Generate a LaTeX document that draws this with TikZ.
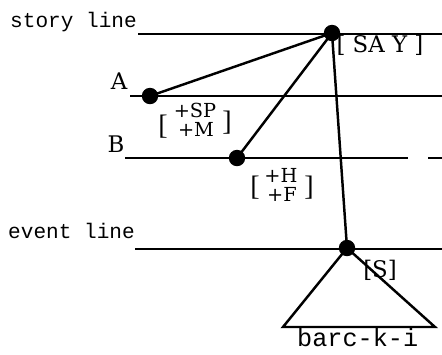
\documentclass[tikz,border=0pt]{standalone}
\usepackage{fontspec}
\setmainfont{DejaVu Serif}
\setmonofont{Liberation Mono}
\newfontfamily\brfont{Liberation Serif}

\tikzset{
    dot/.style={circle, fill=black, inner sep=0pt, minimum size=14pt},
    lbl/.style={inner sep=0pt, font=\fontsize{19.5}{19.5}\selectfont},
    feat/.style={inner sep=0pt, font=\fontsize{16.5}{16.5}\selectfont},
    brk/.style={inner sep=0pt, font=\brfont\fontsize{24}{24}\selectfont},
    tt/.style={inner sep=0pt, anchor=base west, font=\ttfamily\fontsize{18}{18}\selectfont},
    rule/.style={line width=2.1pt}
}

\begin{document}
\begin{tikzpicture}[x=0.03cm, y=-0.03cm]
    \useasboundingbox (0,0) rectangle (442,354);

    % Horizontal lines
    \coordinate (s0) at (138,34);  \coordinate (s1) at (442,34);
    \coordinate (a0) at (130,96);  \coordinate (a1) at (442,96);
    \coordinate (b0) at (125,158); \coordinate (b1) at (408,158);
    \coordinate (d0) at (428,158); \coordinate (d1) at (442,158);
    \coordinate (e0) at (135,249); \coordinate (e1) at (442,249);
    \draw[rule] (s0) -- (s1); % story line
    \draw[rule] (a0) -- (a1); % A
    \draw[rule] (b0) -- (b1); % B
    \draw[rule] (d0) -- (d1);
    \draw[rule] (e0) -- (e1); % event line

    % Dots
    \node[dot] (say) at (332,33) {};
    \node[dot] (pa) at (150,96) {};
    \node[dot] (pb) at (237,158) {};
    \node[dot] (ev) at (347,248) {};

    % Links from SAY
    \draw[rule] (say.center) -- (pa.center);
    \draw[rule] (say.center) -- (pb.center);
    \draw[rule] (say.center) -- (ev.center);

    % Triangle below the event
    \coordinate (tl) at (283,327);
    \coordinate (tr) at (435,327);
    \draw[rule, line join=miter] (ev.center) -- (tl) -- (tr) -- cycle;

    % Line names
    \node[tt] (story) at (10,27) {story line};
    \node[tt] (event) at (8,238) {event line};
    \node[tt, font=\ttfamily\fontsize{21.5}{21.5}\selectfont] (word) at (297,346) {barc-k-i};

    % Labels
    \node[lbl] (labA) at (119,81) {A};
    \node[lbl] (labB) at (116,144) {B};
    \node[lbl] (labSay) at (380,45) {[ SA Y ]};
    \node[lbl] (labS) at (380,270) {[S]};

    % Features of A
    \node[feat] (fsp) at (195,110) {+SP};
    \node[feat] (fm) at (196,129) {+M};
    \node[brk] (ba0) at (163,127) {[};
    \node[brk] (ba1) at (227,123) {]};

    % Features of B
    \node[feat] (fh) at (281,175) {+H};
    \node[feat] (ff) at (282,194) {+F};
    \node[brk] (bb0) at (255,188) {[};
    \node[brk] (bb1) at (309,188) {]};
\end{tikzpicture}
\end{document}
